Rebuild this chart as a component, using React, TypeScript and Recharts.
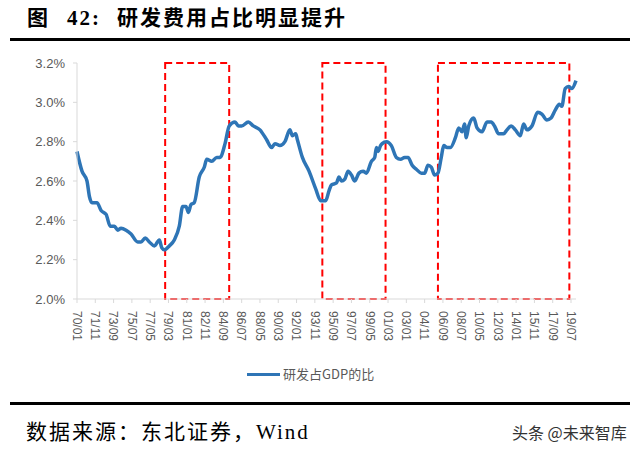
import React from "react";
import {
  LineChart,
  Line,
  XAxis,
  YAxis,
  ReferenceArea,
} from "recharts";

// months since 1970/01
const months = [
  0, 6, 12, 15, 18, 24, 29, 35, 40, 45, 49, 53, 59, 65, 73, 77, 82, 87, 93, 99,
  102, 105, 111, 117, 123, 127, 131, 134, 137, 141, 147, 153, 156, 162, 168,
  172, 178, 183, 190, 194, 198, 206, 212, 220, 228, 234, 238, 244, 250, 256,
  259, 263, 265, 271, 279, 287, 293, 299, 303, 306, 312, 315, 318, 322, 326,
  330, 334, 339, 344, 348, 354, 358, 360, 362, 365, 367, 372, 378, 384, 389,
  394, 398, 403, 408, 414, 418, 422, 426, 430, 434, 438, 441, 445, 449, 455,
  459, 463, 466, 468, 471, 477, 481, 487, 493, 498, 502, 507, 513, 517, 522,
  527, 533, 537, 541, 547, 554, 559, 565, 570, 575, 580, 583, 587, 591, 595,
  600,
];

// 研发占GDP的比 (%)
const rdShare = [
  2.75, 2.65, 2.6, 2.52, 2.49, 2.49, 2.45, 2.43, 2.37, 2.37, 2.35, 2.36, 2.35,
  2.33, 2.29, 2.29, 2.31, 2.29, 2.27, 2.3, 2.26, 2.25, 2.27, 2.3, 2.37, 2.47,
  2.47, 2.44, 2.48, 2.49, 2.62, 2.67, 2.71, 2.7, 2.72, 2.72, 2.79, 2.88, 2.9,
  2.88, 2.88, 2.9, 2.88, 2.86, 2.81, 2.77, 2.79, 2.78, 2.8, 2.86, 2.83, 2.84,
  2.81, 2.72, 2.65, 2.56, 2.5, 2.5, 2.55, 2.58, 2.59, 2.62, 2.6, 2.61, 2.65,
  2.63, 2.6, 2.64, 2.65, 2.64, 2.7, 2.72, 2.77, 2.75, 2.78, 2.79, 2.8, 2.78,
  2.72, 2.71, 2.72, 2.72, 2.68, 2.66, 2.64, 2.64, 2.68, 2.67, 2.63, 2.64, 2.72,
  2.78, 2.77, 2.77, 2.82, 2.87, 2.85, 2.89, 2.82, 2.88, 2.92, 2.87, 2.85, 2.9,
  2.9, 2.88, 2.84, 2.84, 2.86, 2.88, 2.86, 2.83, 2.89, 2.86, 2.88, 2.95, 2.94,
  2.91, 2.92, 2.96, 2.99, 2.98, 3.07, 3.08, 3.07, 3.11,
];

const tickLabels = [
  "70/01", "71/11", "73/09", "75/07", "77/05", "79/03", "81/01", "82/11",
  "84/09", "86/07", "88/05", "90/03", "92/01", "93/11", "95/09", "97/07",
  "99/05", "01/03", "03/01", "04/11", "06/09", "08/07", "10/05", "12/03",
  "14/01", "15/11", "17/09", "19/07",
];

const yTicks = [2.0, 2.2, 2.4, 2.6, 2.8, 3.0, 3.2];

// highlighted periods (start month, end month)
const boxStarts = [106, 295, 434];
const boxEnds = [183, 371, 592];

const toMonth = (label: string) => {
  const [yy, mm] = label.split("/").map(Number);
  const year = yy >= 70 ? 1900 + yy : 2000 + yy;
  return (year - 1970) * 12 + (mm - 1);
};

const xTicks = tickLabels.map(toMonth);
const labelByMonth: Record<number, string> = {};
tickLabels.forEach((l) => (labelByMonth[toMonth(l)] = l));

const data = months.map((m, i) => ({ m, value: rdShare[i] }));

const BLUE = "#2E75B6";
const RED = "#FF0000";
const GRAY = "#595959";

const XTick = (props: any) => {
  const { x, y, payload } = props;
  return (
    <text
      transform={`translate(${x},${y + 6}) rotate(90)`}
      textAnchor="start"
      dy="0.35em"
      fontSize={12}
      fill={GRAY}
      fontFamily="'Liberation Sans', Arial, sans-serif"
    >
      {labelByMonth[payload.value] ?? ""}
    </text>
  );
};

export default function App() {
  return (
    <div
      style={{
        position: "absolute",
        left: 0,
        top: 0,
        width: 640,
        height: 452,
        background: "#fff",
        overflow: "hidden",
      }}
    >
      <div
        style={{
          position: "absolute",
          left: 27,
          top: 7,
          fontSize: 21,
          lineHeight: "22px",
          fontWeight: "bold",
          letterSpacing: 2,
          fontFamily: "'Liberation Serif', 'Noto Sans CJK SC', serif",
          color: "#000",
          whiteSpace: "nowrap",
        }}
      >
        <span>图</span>
        <span style={{ marginLeft: 17 }}>42:</span>
        <span style={{ marginLeft: 16 }}>研发费用占比明显提升</span>
      </div>
      <div
        style={{
          position: "absolute",
          left: 10,
          top: 38,
          width: 620,
          height: 3,
          background: "#000",
        }}
      />
      <div style={{ position: "absolute", left: 0, top: 0 }}>
        <LineChart
          width={640}
          height={452}
          data={data}
          margin={{ top: 63, right: 64, bottom: 113, left: 17 }}
        >
          <XAxis
            dataKey="m"
            type="number"
            domain={[0, 600]}
            ticks={xTicks}
            interval={0}
            tick={<XTick />}
            tickSize={4}
            axisLine={{ stroke: "#D9D9D9" }}
            tickLine={{ stroke: "#D9D9D9" }}
            height={40}
          />
          <YAxis
            type="number"
            domain={[2.0, 3.2]}
            ticks={yTicks}
            interval={0}
            width={60}
            tickSize={4}
            tickMargin={8}
            tickFormatter={(v: number) => `${v.toFixed(1)}%`}
            tick={{
              fill: GRAY,
              fontSize: 13,
              fontFamily: "'Liberation Sans', Arial, sans-serif",
            }}
            axisLine={{ stroke: "#D9D9D9" }}
            tickLine={{ stroke: "#D9D9D9" }}
          />
          <Line
            type="monotone"
            dataKey="value"
            stroke={BLUE}
            strokeWidth={3.5}
            dot={false}
            isAnimationActive={false}
            name="研发占GDP的比"
          />
          {boxStarts.map((s, i) => (
            <ReferenceArea
              key={s}
              x1={s}
              x2={boxEnds[i]}
              y1={2.0}
              y2={3.2}
              fill="none"
              fillOpacity={0}
              stroke={RED}
              strokeWidth={2}
              strokeDasharray="7 4"
              isFront
            />
          ))}
        </LineChart>
      </div>
      <div
        style={{
          position: "absolute",
          left: 247,
          top: 365,
          display: "flex",
          alignItems: "center",
          fontFamily: "'Noto Sans CJK SC', 'Liberation Sans', sans-serif",
          fontSize: 13,
          lineHeight: "18px",
          color: GRAY,
          whiteSpace: "nowrap",
        }}
      >
        <span
          style={{
            display: "inline-block",
            width: 33,
            height: 3,
            background: BLUE,
            marginRight: 3,
          }}
        />
        <span>研发占GDP的比</span>
      </div>
      <div
        style={{
          position: "absolute",
          left: 10,
          top: 402,
          width: 620,
          height: 3,
          background: "#000",
        }}
      />
      <div
        style={{
          position: "absolute",
          left: 26,
          top: 420,
          fontSize: 21,
          lineHeight: "24px",
          letterSpacing: 2,
          fontFamily: "'Liberation Serif', 'Noto Sans CJK SC', serif",
          color: "#000",
          whiteSpace: "nowrap",
        }}
      >
        数据来源：东北证券，Wind
      </div>
      <div
        style={{
          position: "absolute",
          left: 512,
          top: 423,
          fontSize: 16,
          lineHeight: "18px",
          fontFamily: "'Noto Sans CJK SC', sans-serif",
          color: "#333",
          whiteSpace: "nowrap",
        }}
      >
        头条 @未来智库
      </div>
    </div>
  );
}
